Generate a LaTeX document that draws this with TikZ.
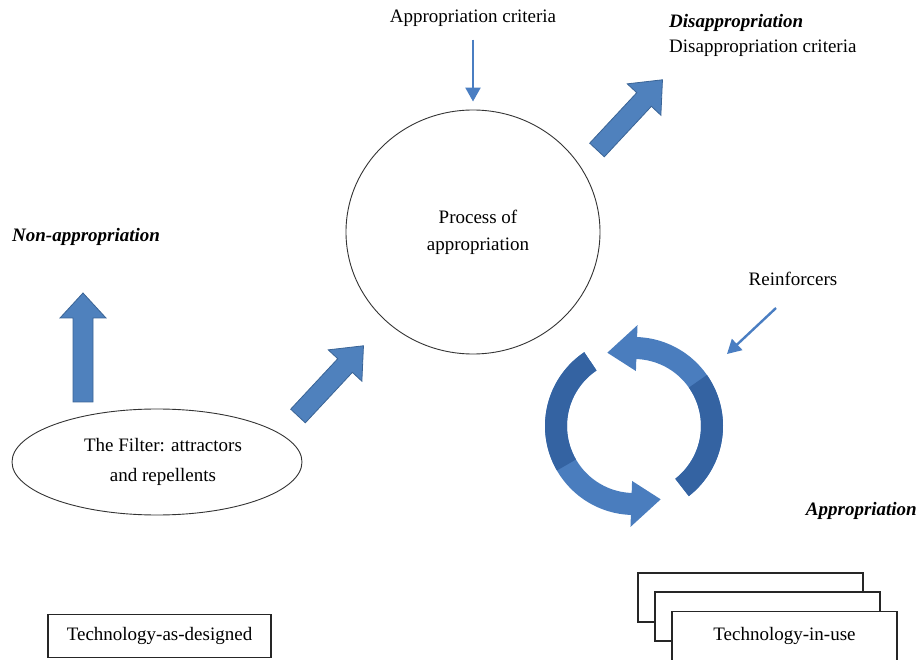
\documentclass[tikz,border=0pt]{standalone}
\usepackage{fontspec}
\setmainfont{Liberation Serif}
\usetikzlibrary{shapes.geometric,arrows.meta,calc}
\definecolor{blk}{HTML}{4F81BD}
\definecolor{blkline}{HTML}{3A6496}
\definecolor{cyc}{HTML}{4A7DBE}
\definecolor{cycdark}{HTML}{3463A2}
\definecolor{thinc}{HTML}{4A7EC2}
\begin{document}
\begin{tikzpicture}[x=1pt,y=-1pt, font=\fontsize{19}{25}\selectfont,
  blockarrow/.style={fill=blk, draw=blkline, line width=0.8pt, line join=miter},
  thinarrow/.style={draw=thinc, line width=2.4pt, -{Triangle[length=14pt,width=15pt]}},
  plainbox/.style={draw=black!85, line width=1.1pt, fill=white, minimum width=225pt, minimum height=48pt, inner sep=0pt},
  oval/.style={ellipse, draw=black!80, line width=0.9pt, align=center, inner sep=0pt},
  txt/.style={inner sep=0pt, align=center},
  bitxt/.style={inner sep=0pt, font=\fontsize{19}{25}\selectfont\bfseries\itshape}]
\useasboundingbox (0,0) rectangle (919,660);

% texts and nodes
\node[txt] (crit) at (473,18) {Appropriation criteria};
\node[oval, minimum width=254pt, minimum height=244pt] (proc) at (473,232) {};
\node[txt, font=\fontsize{19}{27}\selectfont] (proctxt) at (478,232) {Process of\\appropriation};
\node[bitxt, anchor=west] (nonapp) at (12,237) {Non-appropriation};
\node[bitxt, anchor=west] (disapp) at (669,23) {Disappropriation};
\node[txt, anchor=west] (disc) at (669,48) {Disappropriation criteria};
\node[bitxt, anchor=east] (app) at (917,511) {Appropriation};
\node[txt] (reinf) at (793,279) {Reinforcers};
\node[oval, minimum width=290pt, minimum height=106pt] (filter) at (157,462) {};
\node[txt, font=\fontsize{19}{30}\selectfont] (filtertxt) at (163,462) {The Filter: attractors\\and repellents};
\node[plainbox, minimum width=223pt, minimum height=43pt] (tad) at (159.5,636) {Technology-as-designed};
\node[plainbox, minimum width=225pt, minimum height=49pt] (b1) at (750.5,597.5) {};
\node[plainbox, minimum width=225pt, minimum height=49pt] (b2) at (767.5,616.5) {};
\node[plainbox, minimum width=225pt, minimum height=49pt] (tiu) at (784.5,636) {Technology-in-use};

% thin arrows
\draw[thinarrow, shorten <=13pt, shorten >=8pt] (crit) -- (proc);
\coordinate (rstart) at (776,308);
\coordinate (rend) at (727,354);
\draw[thinarrow] (rstart) -- (rend);

% block arrows
\draw[blockarrow] (73,402) -- (73,318) -- (60,318) -- (83,293) -- (106,318) -- (93,318) -- (93,402) -- cycle;
\draw[blockarrow, shift={(298,416)}, rotate=47] (0,-10) -- (69,-10) -- (69,-23) -- (96,0) -- (69,23) -- (69,10) -- (0,10) -- cycle;
\draw[blockarrow, shift={(597,150)}, rotate=47] (0,-10) -- (69,-10) -- (69,-23) -- (96,0) -- (69,23) -- (69,10) -- (0,10) -- cycle;

% circular arrows
\begin{scope}[shift={(634,426)}]
  \fill[cyc] plot[domain=52:-88,samples=60] ({89*cos(\x)},{89*sin(\x)})
    -- ({101*cos(-88)},{101*sin(-88)}) -- ({78*cos(-110)},{78*sin(-110)})
    -- ({55*cos(-88)},{55*sin(-88)})
    -- plot[domain=-88:52,samples=60] ({67*cos(\x)},{67*sin(\x)}) -- cycle;
  \fill[cycdark] plot[domain=52:-35,samples=40] ({89*cos(\x)},{89*sin(\x)})
    -- plot[domain=-35:52,samples=40] ({67*cos(\x)},{67*sin(\x)}) -- cycle;
  \fill[cyc] plot[domain=236:92,samples=60] ({89*cos(\x)},{89*sin(\x)})
    -- ({101*cos(92)},{101*sin(92)}) -- ({78*cos(70)},{78*sin(70)})
    -- ({55*cos(92)},{55*sin(92)})
    -- plot[domain=92:236,samples=60] ({67*cos(\x)},{67*sin(\x)}) -- cycle;
  \fill[cycdark] plot[domain=236:150,samples=40] ({89*cos(\x)},{89*sin(\x)})
    -- plot[domain=150:236,samples=40] ({67*cos(\x)},{67*sin(\x)}) -- cycle;
\end{scope}
\end{tikzpicture}
\end{document}
